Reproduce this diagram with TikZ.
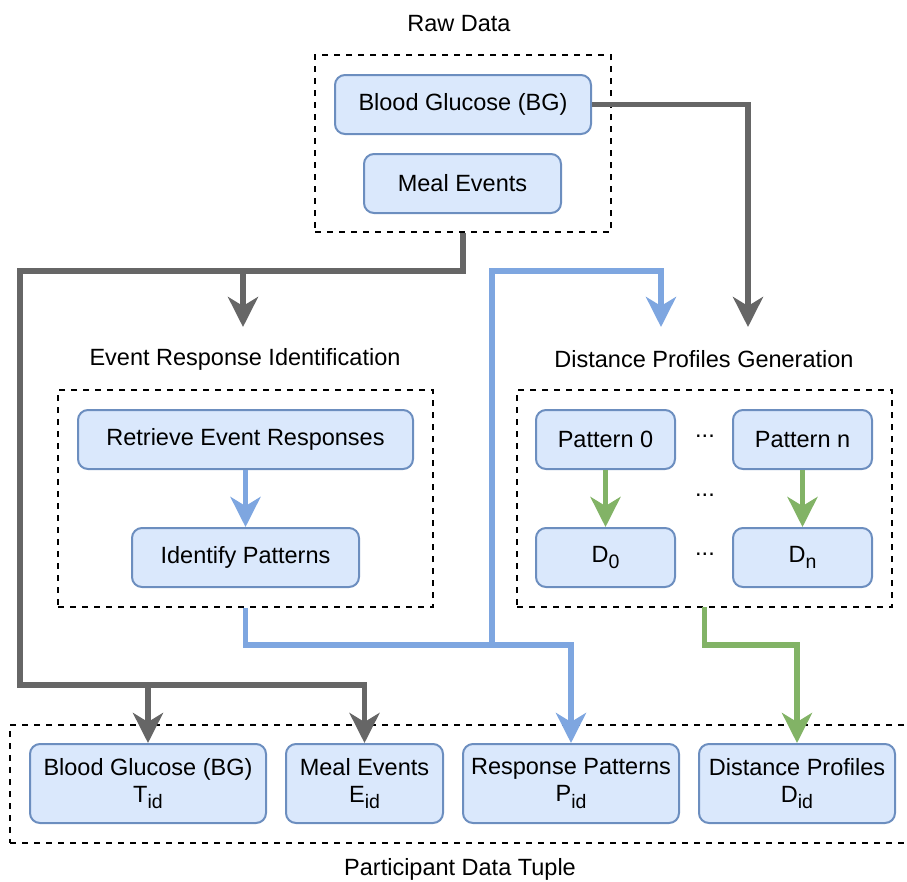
\documentclass[tikz,border=0pt]{standalone}
\usepackage{fontspec}
\setmainfont{Liberation Sans}
\usetikzlibrary{arrows.meta}
\definecolor{nfill}{HTML}{DAE8FC}
\definecolor{nline}{HTML}{6C8EBF}
\definecolor{cgray}{HTML}{666666}
\definecolor{cblue}{HTML}{7EA6E0}
\definecolor{cgreen}{HTML}{82B366}
\newcommand\subid[1]{\raisebox{-6.5pt}{\fontsize{19.5}{20}\selectfont #1}}
\begin{document}
\begin{tikzpicture}[x=1pt,y=-1pt,
  every node/.style={font=\fontsize{23.5}{27}\selectfont, inner sep=0pt},
  proc/.style={draw=nline, fill=nfill, line width=2pt, rounded corners=10pt, minimum height=59pt, align=center},
  tproc/.style={proc, minimum height=79pt},
  group/.style={draw=black, line width=1.6pt, dash pattern=on 6pt off 6pt},
  wire/.style={line width=5.5pt},
  conn/.style={line width=5.5pt, -{Stealth[length=30pt,width=30pt,inset=9pt]}},
  lbl/.style={}
]
\useasboundingbox (0,0) rectangle (907,881);

% group boxes
\node[group, minimum width=296pt, minimum height=177pt] (raw) at (463,143.5) {};
\node[group, minimum width=375pt, minimum height=217pt] (eri) at (245.5,498.5) {};
\node[group, minimum width=375pt, minimum height=217pt] (dpg) at (704.5,498.5) {};
\node[group, minimum width=910pt, minimum height=118pt] (tup) at (465,784) {};

% group labels
\node[lbl] (lraw) at (459,24) {Raw Data};
\node[lbl] (leri) at (245,359) {Event Response Identification};
\node[lbl] (ldpg) at (704,359) {Distance Profiles Generation};
\node[lbl] (ltup) at (460,869) {Participant Data Tuple};

% raw data nodes
\node[proc, minimum width=256pt] (bg1) at (463,104.5) {Blood Glucose (BG)};
\node[proc, minimum width=197pt] (me1) at (462.5,183.5) {Meal Events};

% event response identification
\node[proc, minimum width=335pt] (ret) at (245.5,439.5) {Retrieve Event Responses};
\node[proc, minimum width=227pt] (idp) at (245.5,557.5) {Identify Patterns};

% distance profiles
\node[proc, minimum width=139pt] (p0) at (605.5,439.5) {Pattern 0};
\node[proc, minimum width=139pt] (pn) at (802.5,439.5) {Pattern n};
\node[proc, minimum width=139pt] (d0) at (605.5,557.5) {D\subid{0}};
\node[proc, minimum width=139pt] (dn) at (802.5,557.5) {D\subid{n}};
\node (dots1) at (705,436) {...};
\node (dots2) at (705,495) {...};
\node (dots3) at (705,554) {...};

% tuple nodes
\node[tproc, minimum width=236pt] (tbg) at (148,783.5) {Blood Glucose (BG)\\T\subid{id}};
\node[tproc, minimum width=157pt] (tme) at (364.5,783.5) {Meal Events\\E\subid{id}};
\node[tproc, minimum width=216pt] (trp) at (571,783.5) {Response Patterns\\P\subid{id}};
\node[tproc, minimum width=196pt] (tdp) at (797,783.5) {Distance Profiles\\D\subid{id}};

% coordinates
\coordinate (dgin1) at (748,327);
\coordinate (dgin2) at (661,327);
\coordinate (eriin) at (243,327);
\coordinate (g1) at (463,271);
\coordinate (g2) at (20,271);
\coordinate (g3) at (20,685);
\coordinate (g4) at (364.5,685);
\coordinate (gj1) at (243,271);
\coordinate (gj2) at (148,685);
\coordinate (b1) at (245.5,645);
\coordinate (b2) at (571,645);
\coordinate (bj) at (492,645);
\coordinate (b3) at (492,271);
\coordinate (b4) at (661,271);
\coordinate (gr0) at (704.5,607);
\coordinate (gr1) at (704.5,645);
\coordinate (gr2) at (797,645);

% gray connectors
\draw[conn, cgray] (bg1.east) -| (dgin1);
\draw[conn, cgray] (raw.south) -- (g1) -- (g2) -- (g3) -- (g4) -- (tme.north);
\draw[conn, cgray] (gj1) -- (eriin);
\draw[conn, cgray] (gj2) -- (tbg.north);

% blue connectors
\draw[conn, cblue] (ret.south) -- (idp.north);
\draw[conn, cblue] (eri.south) -- (b1) -- (b2) -- (trp.north);
\draw[conn, cblue] (bj) -- (b3) -- (b4) -- (dgin2);

% green connectors
\draw[conn, cgreen] (p0.south) -- (d0.north);
\draw[conn, cgreen] (pn.south) -- (dn.north);
\draw[conn, cgreen] (gr0) -- (gr1) -- (gr2) -- (tdp.north);
\end{tikzpicture}
\end{document}
